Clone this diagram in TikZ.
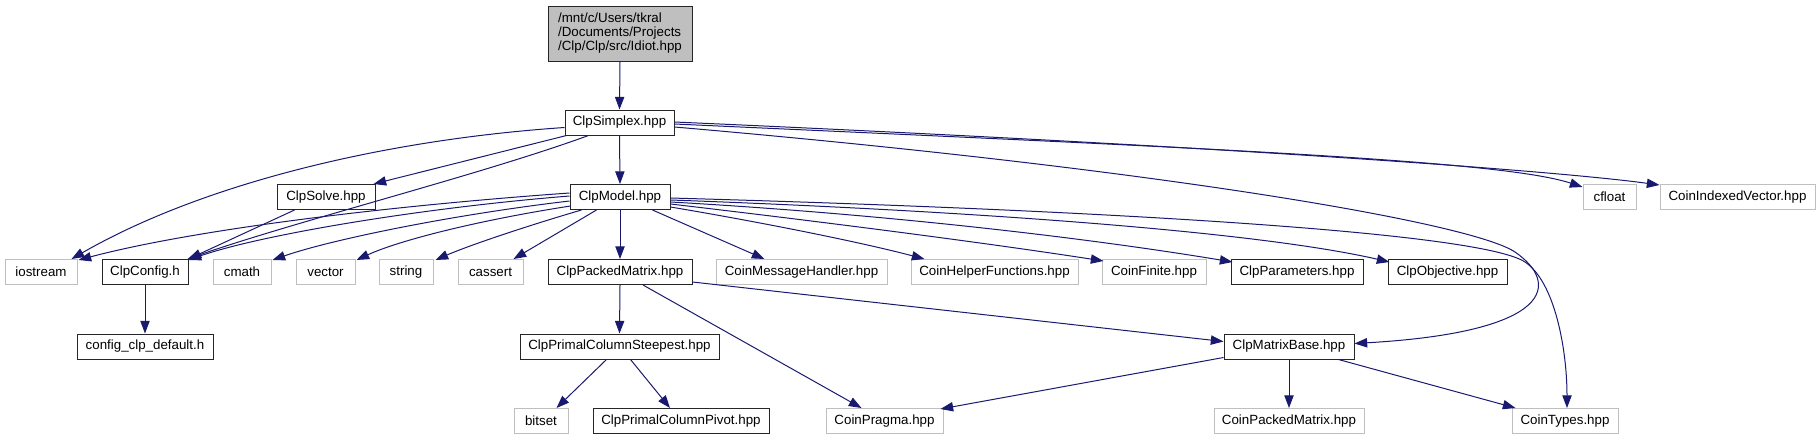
\documentclass[tikz,border=0pt]{standalone}
\usepackage{fontspec}
\setmainfont{Liberation Sans}
\usetikzlibrary{arrows.meta,calc}
\definecolor{edgec}{RGB}{25,25,112}
\definecolor{grayb}{RGB}{191,191,191}
\begin{document}
\begin{tikzpicture}[x=0.75pt,y=-0.75pt,
  doc/.style={draw=black!85, line width=0.75pt, fill=white, rectangle, inner sep=0pt,
    minimum height=25*0.75pt, font=\fontsize{10}{10.5}\selectfont, text=black},
  ext/.style={doc, draw=grayb},
  bw/.style={minimum width=#1*0.75pt},
  dep/.style={draw=edgec, line width=0.75pt, -{Triangle[length=9.5pt,width=7pt]}},
]
\useasboundingbox (0,0) rectangle (1820,440);

% row 0
\node[doc, fill=grayb, bw=144, minimum height=55*0.75pt, align=left] (idiot) at (620,33.5)
  {/mnt/c/Users/tkral\\/Documents/Projects\\/Clp/Clp/src/Idiot.hpp};
% row 1
\node[doc, bw=109] (simplex) at (619.5,122.5) {ClpSimplex.hpp};
% row 2
\node[doc, bw=98]  (solve) at (326,197) {ClpSolve.hpp};
\node[doc, bw=100] (model) at (620,197) {ClpModel.hpp};
\node[ext, bw=53]  (cfloat) at (1609.5,197) {cfloat};
\node[ext, bw=155] (civ) at (1737.5,197) {CoinIndexedVector.hpp};
% row 3
\node[ext, bw=72]  (iostream) at (41,272) {iostream};
\node[doc, bw=86]  (config) at (145,272) {ClpConfig.h};
\node[ext, bw=58]  (cmath) at (242,272) {cmath};
\node[ext, bw=59]  (vector) at (325.5,272) {vector};
\node[ext, bw=54]  (string) at (406,272) {string};
\node[ext, bw=65]  (cassert) at (490.5,272) {cassert};
\node[doc, bw=144] (packed) at (620,272) {ClpPackedMatrix.hpp};
\node[ext, bw=171] (cmh) at (801.5,272) {CoinMessageHandler.hpp};
\node[ext, bw=167] (chf) at (994.5,272) {CoinHelperFunctions.hpp};
\node[ext, bw=104] (finite) at (1154,272) {CoinFinite.hpp};
\node[doc, bw=132] (params) at (1297,272) {ClpParameters.hpp};
\node[doc, bw=119] (objective) at (1447.5,272) {ClpObjective.hpp};
% row 4
\node[doc, bw=136] (cfgdef) at (145,346.5) {config\_clp\_default.h};
\node[doc, bw=199] (steepest) at (619.5,346.5) {ClpPrimalColumnSteepest.hpp};
\node[doc, bw=130] (matrixbase) at (1289,346.5) {ClpMatrixBase.hpp};
% row 5
\node[ext, bw=54]  (bitset) at (541,421) {bitset};
\node[doc, bw=176] (pivot) at (681,421) {ClpPrimalColumnPivot.hpp};
\node[ext, bw=117] (pragma) at (884.5,421) {CoinPragma.hpp};
\node[ext, bw=150] (cpm) at (1289,421) {CoinPackedMatrix.hpp};
\node[ext, bw=106] (types) at (1565,421) {CoinTypes.hpp};

% edges
\draw[dep] (idiot.south) -- (simplex.north);
\draw[dep] (simplex.south) -- (model.north);
\draw[dep] ($(simplex.west)+(0,5)$) .. controls (380,140) and (200,185) .. ($(iostream.north east)+(-6,0)$);
\draw[dep] ($(simplex.south west)+(2,0)$) -- ($(solve.north east)+(-2,0)$);
\draw[dep] ($(simplex.south west)+(24,0)$) .. controls (480,175) and (300,220) .. ($(config.north east)+(-1,0)$);
\draw[dep] ($(simplex.east)+(0,1.5)$) .. controls (1200,148) and (1500,160) .. ($(cfloat.north west)+(0,3)$);
\draw[dep] ($(simplex.east)+(0,-0.5)$) .. controls (1200,145) and (1550,170) .. ($(civ.north west)+(0,1)$);
\draw[dep] ($(simplex.east)+(0,4.5)$) .. controls (1150,168) and (1470,222) .. (1515,252)
  .. controls (1560,283) and (1555,332) .. ($(matrixbase.east)+(0,-3)$);

\draw[dep] ($(model.west)+(0,-4)$) .. controls (400,205) and (200,228) .. ($(iostream.north east)+(1,1)$);
\draw[dep] ($(model.west)+(0,-1)$) .. controls (420,208) and (260,235) .. ($(config.north east)+(0,1)$);
\draw[dep] ($(model.west)+(0,4)$) .. controls (450,215) and (330,240) .. ($(cmath.north east)+(1,1)$);
\draw[dep] ($(model.south west)+(1,-4)$) .. controls (480,220) and (400,240) .. ($(vector.north east)+(1,1)$);
\draw[dep] ($(model.south west)+(12,0)$) .. controls (530,225) and (470,245) .. ($(string.north east)+(2,1)$);
\draw[dep] ($(model.south west)+(27,0)$) -- ($(cassert.north east)+(-10,0)$);
\draw[dep] (model.south) -- (packed.north);
\draw[dep] ($(model.south east)+(-18,0)$) -- ($(cmh.north west)+(49,0)$);
\draw[dep] ($(model.east)+(0,10)$) .. controls (760,222) and (860,242) .. ($(chf.north west)+(14,0)$);
\draw[dep] ($(model.east)+(0,7)$) .. controls (850,225) and (1000,245) .. ($(finite.north west)+(2,2)$);
\draw[dep] ($(model.east)+(0,5)$) .. controls (900,215) and (1100,240) .. ($(params.north west)+(2,3)$);
\draw[dep] ($(model.east)+(0,3)$) .. controls (950,210) and (1250,230) .. ($(objective.north west)+(2,3)$);
\draw[dep] ($(model.east)+(0,1)$) .. controls (1100,210) and (1480,232) .. (1525,262)
  .. controls (1555,282) and (1567,350) .. ($(types.north)+(2,0)$);

\draw[dep] ($(solve.south west)+(18,0)$) -- ($(config.north east)+(0,0)$);
\draw[dep] (config.south) -- (cfgdef.north);
\draw[dep] (packed.south) -- (steepest.north);
\draw[dep] ($(packed.south)+(23,0)$) -- ($(pragma.north west)+(36,0)$);
\draw[dep] ($(packed.east)+(0,10)$) -- ($(matrixbase.west)+(0,-5)$);
\draw[dep] ($(steepest.south)+(-13,0)$) -- ($(bitset.north east)+(-12,0)$);
\draw[dep] ($(steepest.south)+(11,0)$) -- ($(pivot.north)+(-11,0)$);
\draw[dep] ($(matrixbase.south west)+(0,-2)$) -- ($(pragma.north east)+(-3,1)$);
\draw[dep] (matrixbase.south) -- (cpm.north);
\draw[dep] ($(matrixbase.south east)+(-16,0)$) -- ($(types.north west)+(4,0)$);
\end{tikzpicture}
\end{document}
